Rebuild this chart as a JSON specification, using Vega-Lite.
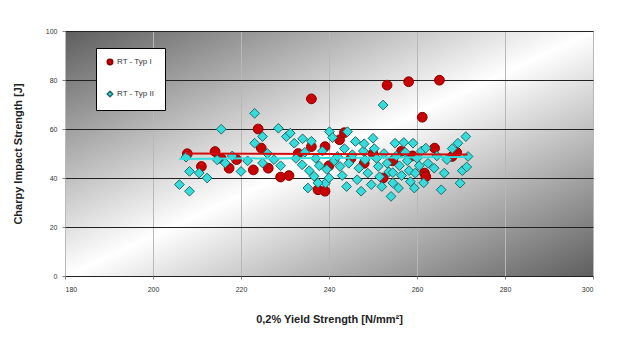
{
  "$schema": "https://vega.github.io/schema/vega-lite/v6.json",
  "width": 528,
  "height": 245,
  "autosize": {"type": "none"},
  "padding": {"left": 65, "top": 31, "right": 29, "bottom": 62},
  "background": "white",
  "config": {
    "font": "Liberation Sans",
    "view": {
      "stroke": "#808080",
      "strokeWidth": 1,
      "fill": {
        "gradient": "linear",
        "x1": 0, "y1": 0, "x2": 1, "y2": 1,
        "stops": [
          {"offset": 0, "color": "#5e5e5e"},
          {"offset": 0.5, "color": "#ffffff"},
          {"offset": 1, "color": "#5e5e5e"}
        ]
      }
    },
    "axis": {
      "labelFontSize": 7,
      "labelColor": "#333333",
      "titleFontSize": 11,
      "titleFontWeight": "bold",
      "titleColor": "#222222",
      "tickColor": "#808080",
      "tickSize": 3,
      "domain": false
    },
    "legend": {"symbolSize": 30}
  },
  "datasets": {
    "pts": [
      {"ys": 207.8, "cis": 49.9, "type": "RT - Typ I"},
      {"ys": 211.0, "cis": 44.7, "type": "RT - Typ I"},
      {"ys": 214.1, "cis": 50.8, "type": "RT - Typ I"},
      {"ys": 215.5, "cis": 48.0, "type": "RT - Typ I"},
      {"ys": 217.3, "cis": 44.0, "type": "RT - Typ I"},
      {"ys": 219.0, "cis": 47.5, "type": "RT - Typ I"},
      {"ys": 222.8, "cis": 43.3, "type": "RT - Typ I"},
      {"ys": 223.9, "cis": 60.0, "type": "RT - Typ I"},
      {"ys": 224.6, "cis": 52.2, "type": "RT - Typ I"},
      {"ys": 226.2, "cis": 44.0, "type": "RT - Typ I"},
      {"ys": 229.0, "cis": 40.4, "type": "RT - Typ I"},
      {"ys": 230.9, "cis": 41.0, "type": "RT - Typ I"},
      {"ys": 233.0, "cis": 50.0, "type": "RT - Typ I"},
      {"ys": 236.0, "cis": 72.3, "type": "RT - Typ I"},
      {"ys": 236.0, "cis": 52.8, "type": "RT - Typ I"},
      {"ys": 237.5, "cis": 35.2, "type": "RT - Typ I"},
      {"ys": 239.1, "cis": 34.6, "type": "RT - Typ I"},
      {"ys": 239.1, "cis": 52.8, "type": "RT - Typ I"},
      {"ys": 240.0, "cis": 45.0, "type": "RT - Typ I"},
      {"ys": 242.4, "cis": 55.6, "type": "RT - Typ I"},
      {"ys": 243.5, "cis": 58.5, "type": "RT - Typ I"},
      {"ys": 245.0, "cis": 48.0, "type": "RT - Typ I"},
      {"ys": 248.0, "cis": 46.0, "type": "RT - Typ I"},
      {"ys": 250.0, "cis": 50.0, "type": "RT - Typ I"},
      {"ys": 252.3, "cis": 40.0, "type": "RT - Typ I"},
      {"ys": 253.2, "cis": 77.9, "type": "RT - Typ I"},
      {"ys": 254.5, "cis": 47.0, "type": "RT - Typ I"},
      {"ys": 256.5, "cis": 51.0, "type": "RT - Typ I"},
      {"ys": 258.1, "cis": 79.3, "type": "RT - Typ I"},
      {"ys": 259.0, "cis": 49.0, "type": "RT - Typ I"},
      {"ys": 261.2, "cis": 64.8, "type": "RT - Typ I"},
      {"ys": 261.7, "cis": 42.0, "type": "RT - Typ I"},
      {"ys": 262.0, "cis": 40.5, "type": "RT - Typ I"},
      {"ys": 264.0, "cis": 52.2, "type": "RT - Typ I"},
      {"ys": 265.1, "cis": 79.9, "type": "RT - Typ I"},
      {"ys": 268.0, "cis": 48.8, "type": "RT - Typ I"},
      {"ys": 269.0, "cis": 50.5, "type": "RT - Typ I"},
      {"ys": 206.0, "cis": 37.3, "type": "RT - Typ II"},
      {"ys": 208.3, "cis": 34.6, "type": "RT - Typ II"},
      {"ys": 208.3, "cis": 42.7, "type": "RT - Typ II"},
      {"ys": 207.5, "cis": 48.5, "type": "RT - Typ II"},
      {"ys": 210.5, "cis": 42.0, "type": "RT - Typ II"},
      {"ys": 212.3, "cis": 40.0, "type": "RT - Typ II"},
      {"ys": 214.6, "cis": 47.4, "type": "RT - Typ II"},
      {"ys": 215.5, "cis": 59.9, "type": "RT - Typ II"},
      {"ys": 216.4, "cis": 46.1, "type": "RT - Typ II"},
      {"ys": 218.0, "cis": 49.0, "type": "RT - Typ II"},
      {"ys": 220.0, "cis": 42.7, "type": "RT - Typ II"},
      {"ys": 221.5, "cis": 47.0, "type": "RT - Typ II"},
      {"ys": 223.1, "cis": 66.4, "type": "RT - Typ II"},
      {"ys": 223.1, "cis": 54.2, "type": "RT - Typ II"},
      {"ys": 224.9, "cis": 56.9, "type": "RT - Typ II"},
      {"ys": 224.9, "cis": 46.1, "type": "RT - Typ II"},
      {"ys": 226.0, "cis": 50.0, "type": "RT - Typ II"},
      {"ys": 227.5, "cis": 47.5, "type": "RT - Typ II"},
      {"ys": 228.5, "cis": 60.3, "type": "RT - Typ II"},
      {"ys": 229.0, "cis": 45.0, "type": "RT - Typ II"},
      {"ys": 230.3, "cis": 56.9, "type": "RT - Typ II"},
      {"ys": 231.2, "cis": 58.3, "type": "RT - Typ II"},
      {"ys": 232.1, "cis": 54.2, "type": "RT - Typ II"},
      {"ys": 232.5, "cis": 48.0, "type": "RT - Typ II"},
      {"ys": 233.9, "cis": 45.4, "type": "RT - Typ II"},
      {"ys": 234.5, "cis": 50.5, "type": "RT - Typ II"},
      {"ys": 235.2, "cis": 35.9, "type": "RT - Typ II"},
      {"ys": 235.5, "cis": 43.0, "type": "RT - Typ II"},
      {"ys": 236.6, "cis": 40.7, "type": "RT - Typ II"},
      {"ys": 237.0, "cis": 48.0, "type": "RT - Typ II"},
      {"ys": 237.8, "cis": 45.0, "type": "RT - Typ II"},
      {"ys": 238.5, "cis": 51.0, "type": "RT - Typ II"},
      {"ys": 239.2, "cis": 37.9, "type": "RT - Typ II"},
      {"ys": 239.5, "cis": 43.5, "type": "RT - Typ II"},
      {"ys": 240.1, "cis": 58.9, "type": "RT - Typ II"},
      {"ys": 240.8, "cis": 56.5, "type": "RT - Typ II"},
      {"ys": 241.2, "cis": 47.0, "type": "RT - Typ II"},
      {"ys": 241.9, "cis": 48.8, "type": "RT - Typ II"},
      {"ys": 242.5, "cis": 44.7, "type": "RT - Typ II"},
      {"ys": 243.0, "cis": 41.0, "type": "RT - Typ II"},
      {"ys": 243.5, "cis": 52.0, "type": "RT - Typ II"},
      {"ys": 244.2, "cis": 58.9, "type": "RT - Typ II"},
      {"ys": 244.5, "cis": 46.0, "type": "RT - Typ II"},
      {"ys": 245.3, "cis": 49.5, "type": "RT - Typ II"},
      {"ys": 246.0, "cis": 54.9, "type": "RT - Typ II"},
      {"ys": 246.4, "cis": 39.3, "type": "RT - Typ II"},
      {"ys": 246.8, "cis": 44.0, "type": "RT - Typ II"},
      {"ys": 247.3, "cis": 34.6, "type": "RT - Typ II"},
      {"ys": 247.8, "cis": 51.0, "type": "RT - Typ II"},
      {"ys": 248.2, "cis": 47.4, "type": "RT - Typ II"},
      {"ys": 248.8, "cis": 42.0, "type": "RT - Typ II"},
      {"ys": 249.6, "cis": 37.3, "type": "RT - Typ II"},
      {"ys": 250.0, "cis": 56.2, "type": "RT - Typ II"},
      {"ys": 250.3, "cis": 52.0, "type": "RT - Typ II"},
      {"ys": 250.8, "cis": 48.0, "type": "RT - Typ II"},
      {"ys": 251.2, "cis": 44.7, "type": "RT - Typ II"},
      {"ys": 251.5, "cis": 40.5, "type": "RT - Typ II"},
      {"ys": 252.3, "cis": 69.8, "type": "RT - Typ II"},
      {"ys": 252.5, "cis": 50.0, "type": "RT - Typ II"},
      {"ys": 253.2, "cis": 46.0, "type": "RT - Typ II"},
      {"ys": 253.6, "cis": 42.5, "type": "RT - Typ II"},
      {"ys": 254.1, "cis": 32.5, "type": "RT - Typ II"},
      {"ys": 254.5, "cis": 38.0, "type": "RT - Typ II"},
      {"ys": 255.0, "cis": 54.2, "type": "RT - Typ II"},
      {"ys": 255.3, "cis": 49.0, "type": "RT - Typ II"},
      {"ys": 255.8, "cis": 35.9, "type": "RT - Typ II"},
      {"ys": 256.0, "cis": 45.0, "type": "RT - Typ II"},
      {"ys": 256.5, "cis": 41.0, "type": "RT - Typ II"},
      {"ys": 257.0, "cis": 54.5, "type": "RT - Typ II"},
      {"ys": 257.3, "cis": 50.5, "type": "RT - Typ II"},
      {"ys": 257.8, "cis": 47.0, "type": "RT - Typ II"},
      {"ys": 258.2, "cis": 43.0, "type": "RT - Typ II"},
      {"ys": 258.5, "cis": 38.5, "type": "RT - Typ II"},
      {"ys": 259.1, "cis": 54.2, "type": "RT - Typ II"},
      {"ys": 259.4, "cis": 35.9, "type": "RT - Typ II"},
      {"ys": 259.6, "cis": 42.0, "type": "RT - Typ II"},
      {"ys": 260.0, "cis": 48.0, "type": "RT - Typ II"},
      {"ys": 260.5, "cis": 45.0, "type": "RT - Typ II"},
      {"ys": 261.0, "cis": 51.0, "type": "RT - Typ II"},
      {"ys": 261.5, "cis": 38.0, "type": "RT - Typ II"},
      {"ys": 262.0, "cis": 52.2, "type": "RT - Typ II"},
      {"ys": 262.5, "cis": 46.0, "type": "RT - Typ II"},
      {"ys": 263.9, "cis": 44.0, "type": "RT - Typ II"},
      {"ys": 264.5, "cis": 49.0, "type": "RT - Typ II"},
      {"ys": 265.5, "cis": 35.2, "type": "RT - Typ II"},
      {"ys": 266.2, "cis": 42.0, "type": "RT - Typ II"},
      {"ys": 266.8, "cis": 47.5, "type": "RT - Typ II"},
      {"ys": 268.0, "cis": 52.0, "type": "RT - Typ II"},
      {"ys": 269.3, "cis": 54.2, "type": "RT - Typ II"},
      {"ys": 269.8, "cis": 37.9, "type": "RT - Typ II"},
      {"ys": 270.3, "cis": 43.0, "type": "RT - Typ II"},
      {"ys": 271.1, "cis": 56.9, "type": "RT - Typ II"},
      {"ys": 271.6, "cis": 48.8, "type": "RT - Typ II"},
      {"ys": 271.3, "cis": 44.5, "type": "RT - Typ II"},
      {"ys": 254.5, "cis": 42.2, "type": "RT - Typ II"},
      {"ys": 252.0, "cis": 36.5, "type": "RT - Typ II"},
      {"ys": 244.0, "cis": 36.5, "type": "RT - Typ II"},
      {"ys": 236.0, "cis": 55.0, "type": "RT - Typ II"},
      {"ys": 234.0, "cis": 56.0, "type": "RT - Typ II"},
      {"ys": 237.5, "cis": 38.0, "type": "RT - Typ II"},
      {"ys": 240.0, "cis": 40.0, "type": "RT - Typ II"},
      {"ys": 248.0, "cis": 54.0, "type": "RT - Typ II"}
    ],
    "trend": [
      {"ys": 207.5, "cis": 50.0, "type": "RT - Typ I"},
      {"ys": 271.5, "cis": 49.6, "type": "RT - Typ I"},
      {"ys": 206.0, "cis": 47.8, "type": "RT - Typ II"},
      {"ys": 271.5, "cis": 48.6, "type": "RT - Typ II"}
    ]
  },
  "layer": [
    {
      "data": {"name": "pts"},
      "mark": {"type": "point", "filled": true, "opacity": 1, "strokeWidth": 1, "size": 95},
      "encoding": {
        "x": {
          "field": "ys", "type": "quantitative",
          "scale": {"domain": [180, 300], "nice": false},
          "axis": {
            "values": [180, 200, 220, 240, 260, 280, 300],
            "title": "0,2% Yield Strength [N/mm²]",
            "titlePadding": 21,
            "labelPadding": 6,
            "gridColor": "#b8b8b8",
            "gridWidth": 1
          }
        },
        "y": {
          "field": "cis", "type": "quantitative",
          "scale": {"domain": [0, 100], "nice": false},
          "axis": {
            "values": [0, 20, 40, 60, 80, 100],
            "title": "Charpy Impact Strength [J]",
            "titlePadding": 22,
            "labelPadding": 5,
            "gridColor": "#222222",
            "gridWidth": 1
          }
        },
        "color": {
          "field": "type", "type": "nominal",
          "scale": {"domain": ["RT - Typ I", "RT - Typ II"], "range": ["#c80000", "#35dcdc"]},
          "legend": {
            "title": null,
            "orient": "none",
            "legendX": 31,
            "legendY": 17,
            "fillColor": "white",
            "strokeColor": "#000000",
            "padding": 10,
            "rowPadding": 20,
            "labelFontSize": 8,
            "labelColor": "#333333",
            "labelOffset": 3,
            "symbolSize": 30,
            "offset": 0
          }
        },
        "shape": {
          "field": "type", "type": "nominal",
          "scale": {"domain": ["RT - Typ I", "RT - Typ II"], "range": ["circle", "diamond"]}
        },
        "stroke": {
          "field": "type", "type": "nominal",
          "scale": {"domain": ["RT - Typ I", "RT - Typ II"], "range": ["#8a0000", "#1f6b6b"]}
        }
      }
    },
    {
      "data": {"name": "trend"},
      "transform": [{"filter": "datum.type === 'RT - Typ II'"}],
      "mark": {"type": "line", "color": "#35dcdc", "strokeWidth": 2},
      "encoding": {
        "x": {"field": "ys", "type": "quantitative"},
        "y": {"field": "cis", "type": "quantitative"}
      }
    },
    {
      "data": {"name": "trend"},
      "transform": [{"filter": "datum.type === 'RT - Typ I'"}],
      "mark": {"type": "line", "color": "#d01010", "strokeWidth": 2},
      "encoding": {
        "x": {"field": "ys", "type": "quantitative"},
        "y": {"field": "cis", "type": "quantitative"}
      }
    }
  ]
}
